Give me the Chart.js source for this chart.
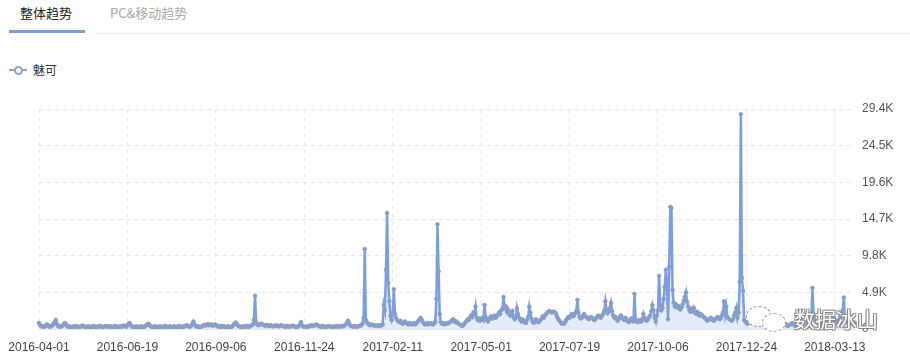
<!DOCTYPE html>
<html>
<head>
<meta charset="utf-8">
<script src="https://cdn.jsdelivr.net/npm/chart.js@4.4.0/dist/chart.umd.min.js"></script>
<style>
  body { margin: 0; background: #fff; font-family: "Liberation Sans", "Noto Sans CJK SC", sans-serif; }
  #wrap { position: relative; width: 910px; height: 357px; overflow: hidden; }
  .tab { position: absolute; top: 3px; font-size: 13px; font-family: "Noto Sans CJK SC", sans-serif; }
  #tab1 { left: 20px; color: #222; }
  #tab2 { left: 110px; color: #aaa; }
  #tabbar { position: absolute; left: 9px; top: 30px; width: 76px; height: 3px; background: #7ba0cf; }
  #tabline { position: absolute; left: 95px; top: 33px; right: 0; height: 1px; background: #e8e8e8; }
  #legend { position: absolute; left: 9px; top: 61px; font-size: 12px; color: #333; font-family: "Noto Sans CJK SC", sans-serif; display: flex; align-items: center; }
  #legend .mark { position: relative; width: 18px; height: 12px; margin-right: 6px; }
  #legend .mark:before { content: ""; position: absolute; left: 0; top: 5px; width: 18px; height: 2px; background: #8fa6c6; }
  #legend .mark:after { content: ""; position: absolute; left: 5px; top: 2px; width: 5px; height: 5px; border: 2px solid #8fa6c6; border-radius: 50%; background: #fff; }
  #box { position: absolute; left: 0; top: 95px; width: 910px; height: 262px; }
  #wm { position: absolute; left: 794px; top: 303px; font-size: 21px; color: #fff; font-family: "Noto Sans CJK SC", sans-serif;
        text-shadow: -1px -1px 0 #888, 1px -1px 0 #888, -1px 1px 0 #888, 1px 1px 0 #888; }
  .bub { position: absolute; background: #fff; border: 1.5px dashed #999; border-radius: 50%; }
  #b1 { left: 746px; top: 306px; width: 24px; height: 19px; }
  #b2 { left: 762px; top: 313px; width: 22px; height: 17px; }
</style>
</head>
<body>
<div id="wrap">
  <div class="tab" id="tab1">整体趋势</div>
  <div class="tab" id="tab2">PC&amp;移动趋势</div>
  <div id="tabbar"></div>
  <div id="tabline"></div>
  <div id="legend"><span class="mark"></span>魅可</div>
  <div id="box"><canvas id="chart"></canvas></div>
  <div class="bub" id="b1"></div>
  <div class="bub" id="b2"></div>
  <div id="wm">数据冰山</div>
</div>
<script>
const seriesName = "魅可";
const startDate = "2016-04-01";
const tickDates = ["2016-04-01", "2016-06-19", "2016-09-06", "2016-11-24", "2017-02-11",
  "2017-05-01", "2017-07-19", "2017-10-06", "2017-12-24", "2018-03-13"];
const yTicks = [0, 4900, 9800, 14700, 19600, 24500, 29400];

// daily search index, 2016-04-01 .. 2018-03-31
const values = [
  800, 500, 400, 300, 350, 300, 450, 600, 500, 350,
  300, 400, 500, 700, 900, 1200, 700, 400, 350, 300,
  350, 450, 600, 800, 700, 400, 300, 350, 300, 250,
  300, 350, 300, 400, 350, 300, 250, 300, 400, 450,
  350, 300, 250, 300, 350, 300, 250, 300, 350, 400,
  300, 250, 300, 350, 400, 350, 300, 250, 300, 350,
  400, 350, 300, 300, 350, 300, 250, 300, 400, 350,
  300, 250, 300, 350, 300, 400, 450, 350, 300, 500,
  700, 800, 500, 350, 300, 250, 300, 350, 300, 250,
  300, 350, 300, 250, 300, 400, 500, 650, 700, 450,
  350, 300, 250, 300, 350, 300, 250, 300, 350, 300,
  250, 300, 350, 400, 300, 250, 300, 350, 300, 250,
  300, 350, 300, 250, 300, 400, 350, 300, 250, 300,
  350, 400, 500, 400, 350, 300, 450, 700, 1000, 600,
  400, 300, 350, 300, 250, 300, 400, 500, 550, 450,
  600, 650, 500, 550, 600, 450, 500, 600, 550, 400,
  350, 300, 350, 300, 400, 350, 300, 250, 300, 350,
  300, 250, 300, 400, 600, 800, 850, 600, 450, 350,
  300, 250, 300, 350, 300, 350, 400, 300, 350, 400,
  500, 600, 1200, 4450, 900, 600, 500, 550, 700, 650,
  600, 500, 450, 550, 500, 400, 450, 500, 400, 350,
  400, 450, 500, 400, 350, 400, 500, 450, 400, 350,
  300, 350, 400, 350, 300, 350, 400, 450, 350, 300,
  250, 300, 400, 600, 900, 500, 350, 300, 250, 300,
  350, 300, 400, 500, 450, 400, 500, 550, 600, 500,
  400, 350, 300, 400, 350, 300, 250, 300, 350, 400,
  350, 300, 250, 300, 350, 300, 400, 350, 300, 350,
  400, 350, 400, 500, 600, 800, 1100, 800, 500, 400,
  350, 300, 400, 350, 300, 350, 400, 450, 500, 700,
  1500, 10700, 1200, 900, 700, 600, 500, 600, 550, 500,
  450, 500, 400, 450, 500, 400, 500, 600, 3200, 2500,
  7900, 15500, 6200, 3700, 1700, 1200, 2000, 5300, 2000, 1500,
  1200, 1000, 900, 1100, 800, 700, 900, 1000, 800, 700,
  600, 800, 700, 600, 700, 800, 600, 700, 900, 1100,
  1300, 1500, 1200, 900, 700, 600, 700, 800, 600, 700,
  800, 700, 600, 700, 1000, 4000, 14000, 7700, 2000, 900,
  700, 800, 600, 700, 800, 700, 800, 900, 1000, 1200,
  1300, 1100, 900, 1000, 800, 700, 600, 500, 400, 500,
  700, 900, 1100, 1300, 1200, 1500, 1800, 1600, 2200, 2000,
  3000, 1500, 1200, 1400, 1100, 1300, 1500, 1200, 3200, 1600,
  1200, 1000, 1300, 1500, 1700, 1400, 1600, 1800, 1500, 1700,
  1900, 2200, 2000, 2500, 2700, 4300, 2800, 3000, 2300, 2600,
  2000, 1800, 2200, 2400, 1600, 1300, 1500, 2800, 2000, 1500,
  1200, 1000, 1300, 1100, 900, 800, 1200, 1600, 3000, 2200,
  1400, 1000, 800, 1000, 1300, 1100, 900, 1000, 1200, 1400,
  1700, 1500, 1800, 2000, 2200, 2300, 2400, 2300, 2200, 2300,
  2300, 2200, 2000, 1600, 1300, 1100, 900, 700, 800, 700,
  900, 1200, 1400, 1600, 1500, 1800, 2000, 1700, 1800, 2100,
  2400, 3900, 2200, 1600, 1400, 1500, 1800, 2000, 1700, 1600,
  1500, 1300, 1400, 1600, 1500, 1400, 1200, 1300, 1500, 1700,
  1800, 1600, 1500, 1800, 2000, 2400, 3700, 2600, 2100, 2300,
  2800, 3500, 2400, 1800, 1500, 1600, 1300, 1100, 1400, 1600,
  1800, 1500, 1300, 1200, 1500, 1300, 1000, 900, 1200, 1400,
  1100, 1000, 4700, 1300, 1000, 900, 1100, 1200, 1000, 1300,
  2000, 1500, 1200, 1100, 1300, 1600, 1800, 2400, 3200, 2500,
  1500, 1000, 1800, 2500, 7100, 3200, 2500, 2800, 4000, 5600,
  7900, 5700, 1300, 8300, 16300, 16200, 5200, 3500, 3000, 3300,
  3100, 2800, 3000, 2600, 2900, 3300, 3800, 4300, 4900, 3600,
  3000, 2500, 2300, 2700, 2400, 2800, 2200, 2000, 2300, 2100,
  1800, 2000, 1900, 1700, 1600, 1500, 1300, 1100, 1200, 1300,
  1500, 1400, 1200, 1100, 1300, 1400, 1600, 1500, 1300, 1400,
  1800, 2200, 3700, 2000, 3000, 1600, 1400, 1300, 1200, 1100,
  1300, 1800, 2200, 2800, 1500, 2200, 6300, 28700, 6800, 5100,
  1200, 1000, 800, 700, 900, 1100, 1000, 800, 1200, 1000,
  900, 800, 700, 900, 1000, 800, 600, 700, 800, 900,
  700, 600, 500, 600, 800, 700, 600, 500, 700, 900,
  800, 700, 600, 500, 600, 700, 800, 600, 500, 400,
  500, 600, 700, 800, 600, 500, 400, 600, 800, 1000,
  900, 800, 700, 900, 1200, 1000, 800, 900, 1100, 1400,
  1800, 5500, 1600, 1200, 1000, 900, 800, 1000, 900, 800,
  700, 900, 1100, 1000, 900, 1200, 1400, 1100, 1000, 1300,
  1500, 1200, 1000, 900, 1100, 1300, 1600, 2000, 2500, 4200,
  1500, 1100, 900, 800, 1000, 900, 800, 700, 900, 800
];

// one label per day
const days = [];
const d0 = new Date(startDate + "T00:00:00Z");
for (let i = 0; i < values.length; i++) {
  const d = new Date(d0.getTime() + i * 86400000);
  days.push(d.toISOString().slice(0, 10));
}

const gridColor = "#e6e6e6";

new Chart(document.getElementById("chart"), {
  type: "line",
  data: {
    labels: days,
    datasets: [{
      label: seriesName,
      data: values,
      borderColor: "#7b9ee2",
      borderWidth: 2.5,
      backgroundColor: "rgba(205,220,248,0.55)",
      fill: "origin",
      tension: 0,
      pointRadius: 1.8,
      pointBorderWidth: 1,
      pointBackgroundColor: "#7d9bd6",
      pointBorderColor: "#8da1c2",
    }],
  },
  options: {
    responsive: true,
    maintainAspectRatio: false,
    animation: false,
    layout: { padding: { top: 14, right: 0, left: 39, bottom: 0 } },
    plugins: {
      legend: { display: false },
      tooltip: { enabled: false },
    },
    scales: {
      x: {
        type: "category",
        offset: false,
        afterBuildTicks: (scale) => {
          scale.ticks = scale.ticks.filter((t) => tickDates.includes(days[t.value]));
        },
        afterFit: (scale) => {
          scale.paddingLeft = 0;
          scale.paddingRight = 0;
          scale.height = 28;
        },
        ticks: {
          autoSkip: false,
          maxRotation: 0,
          padding: 11,
          color: "#444",
          font: { family: "Liberation Sans", size: 12 },
        },
        grid: { color: gridColor, drawTicks: false },
        border: { display: true, color: gridColor, dash: [4, 4] },
      },
      y: {
        position: "right",
        min: 0,
        max: 29400,
        afterBuildTicks: (scale) => {
          scale.ticks = yTicks.map((v) => ({ value: v }));
        },
        afterFit: (scale) => {
          scale.width = 55;
          scale.paddingTop = 0;
          scale.paddingBottom = 0;
        },
        ticks: {
          padding: 7,
          color: "#555",
          font: { family: "Liberation Sans", size: 12 },
          callback: (v) => (v === 0 ? "0" : (v / 1000).toFixed(1) + "K"),
        },
        grid: { color: gridColor, drawTicks: false },
        border: { display: false, dash: [4, 4] },
      },
    },
  },
});
</script>
</body>
</html>
